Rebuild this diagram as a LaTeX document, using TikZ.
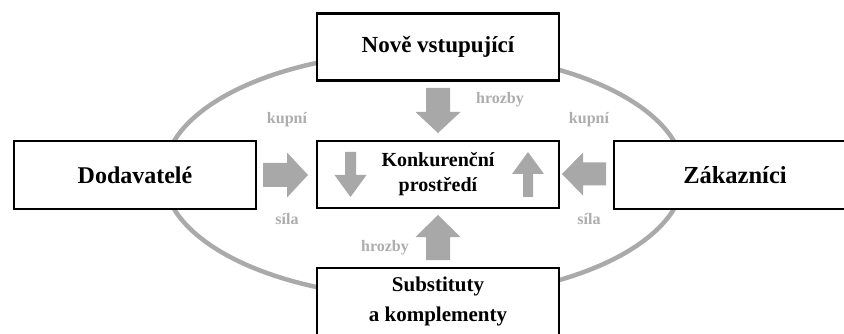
\documentclass[tikz,border=0pt]{standalone}
\usepackage{fontspec}
\setmainfont{Liberation Serif}
\definecolor{arrowgray}{HTML}{A8A8A8}
\definecolor{labelgray}{HTML}{ADADAD}
\definecolor{ringgray}{HTML}{AAAAAA}
\tikzset{
  forcebox/.style={draw=black, line width=2.5pt, fill=white, minimum width=242pt,
    inner sep=0pt, align=center, font=\bfseries\fontsize{24}{30}\selectfont},
  corebox/.style={forcebox, font=\bfseries\fontsize{20}{25}\selectfont},
  forcelabel/.style={text=labelgray, inner sep=0pt, font=\bfseries\fontsize{16}{18}\selectfont},
  pics/barrow/.style n args={4}{code={
    \fill[arrowgray] (0,-#2/2) -- ({#1-#4},-#2/2) -- ({#1-#4},-#3/2) -- (#1,0)
      -- ({#1-#4},#3/2) -- ({#1-#4},#2/2) -- (0,#2/2) -- cycle;
  }}
}
\begin{document}
\begin{tikzpicture}[x=1pt, y=-1pt]
\useasboundingbox (0,0) rectangle (844,334);
\clip (0,0) rectangle (844,334);
% ring
\draw[ringgray, line width=4.5pt] (424,175) ellipse [x radius=260pt, y radius=123pt];
% boxes
\node[forcebox, minimum height=67pt, font=\bfseries\fontsize{23}{28}\selectfont] (entrants) at (438,47) {Nově vstupující};
\node[forcebox, minimum height=68pt] (suppliers) at (135,175) {Dodavatelé};
\node[corebox, minimum height=67pt] (core) at (438,174.5) {Konkurenční\\prostředí};
\node[forcebox, minimum height=68pt, font=\bfseries\fontsize{24.5}{30}\selectfont] (customers) at (735,175) {Zákazníci};
\node[forcebox, minimum height=67pt, font=\bfseries\fontsize{21}{30}\selectfont] (substitutes) at (438,301.5) {Substituty\\a komplementy};
% block arrows
\pic[rotate=-90] at (438,88) {barrow={45}{24}{45}{21}};
\pic[rotate=90] at (438,260) {barrow={45}{24}{45}{22}};
\pic at (263,175) {barrow={45}{24}{45}{21}};
\pic[rotate=180] at (606,174) {barrow={44}{23}{43}{21}};
\pic[rotate=-90] at (350.5,152) {barrow={45}{11}{32}{22}};
\pic[rotate=90] at (528,197) {barrow={45}{10}{32}{22}};
% labels
\node[forcelabel] (threat1) at (500,100) {hrozby};
\node[forcelabel] (threat2) at (385,248) {hrozby};
\node[forcelabel] (buyL) at (287,120) {kupní};
\node[forcelabel] (buyR) at (589,120) {kupní};
\node[forcelabel] (powL) at (287,219) {síla};
\node[forcelabel] (powR) at (589,219) {síla};
\end{tikzpicture}
\end{document}
